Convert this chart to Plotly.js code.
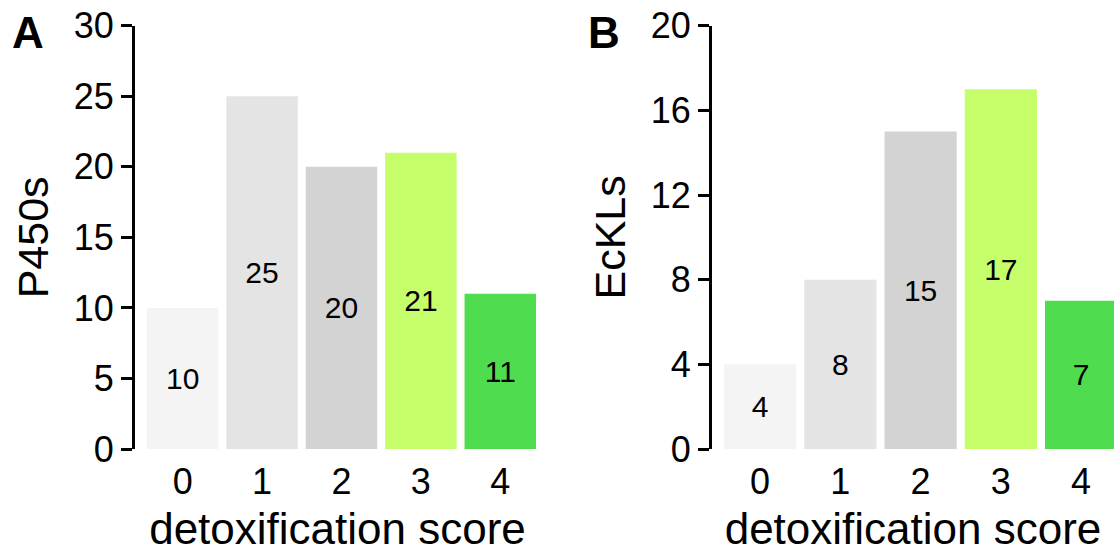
<!DOCTYPE html>
<html>
<head>
<meta charset="utf-8">
<script src="https://cdn.plot.ly/plotly-3.0.1.min.js"></script>
<style>
  html, body { margin: 0; padding: 0; background: #ffffff; }
  #chart { width: 1114px; height: 557px; }
</style>
</head>
<body>
<div id="chart"></div>
<script>
// Data
const scores = [0, 1, 2, 3, 4];
const scoreLabels = ['0', '1', '2', '3', '4'];
const p450Counts = [10, 25, 20, 21, 11];
const ecklCounts = [4, 8, 15, 17, 7];
const barColors = ['#f4f4f4', '#e4e4e4', '#d3d3d3', '#c6fd6a', '#4fdd4f'];
const panelLetters = ['A', 'B'];
const yTitles = ['P450s', 'EcKLs'];
const xTitle = 'detoxification score';

const FONT = 'Liberation Sans, Arial, Helvetica, sans-serif';

function barTrace(vals, xa, ya) {
  return {
    type: 'bar',
    x: scores,
    y: vals,
    xaxis: xa,
    yaxis: ya,
    marker: { color: barColors, line: { width: 0 } },
    text: vals.map(String),
    textposition: 'inside',
    insidetextanchor: 'middle',
    textangle: 0,
    constraintext: 'none',
    textfont: { family: FONT, size: 30, color: '#000000' },
    hoverinfo: 'skip',
    showlegend: false
  };
}

const data = [
  barTrace(p450Counts, 'x', 'y'),
  barTrace(ecklCounts, 'x2', 'y2')
];

const yDom = [1 - 449 / 557, 1 - 25.7 / 557];

function xAxis(domain, range, anchor) {
  return {
    domain: domain,
    range: range,
    anchor: anchor,
    tickmode: 'array',
    tickvals: scores,
    ticktext: scoreLabels,
    showline: false,
    showgrid: false,
    zeroline: false,
    ticks: '',
    ticklabelstandoff: 8,
    tickfont: { family: FONT, size: 36, color: '#000000' },
    title: { text: xTitle, font: { family: FONT, size: 44, color: '#000000' }, standoff: 12 },
    automargin: false,
    fixedrange: true
  };
}

function yAxis(range, dtick, anchor, titleText) {
  return {
    domain: yDom,
    range: range,
    anchor: anchor,
    tickmode: 'linear',
    tick0: 0,
    dtick: dtick,
    showline: true,
    linecolor: '#000000',
    linewidth: 3,
    ticks: 'outside',
    ticklen: 11,
    tickwidth: 3,
    tickcolor: '#000000',
    showgrid: false,
    zeroline: false,
    tickfont: { family: FONT, size: 36, color: '#000000' },
    title: { text: titleText, font: { family: FONT, size: 43, color: '#000000' }, standoff: 12 },
    automargin: false,
    fixedrange: true
  };
}

const layout = {
  width: 1114,
  height: 557,
  margin: { l: 0, r: 0, t: 0, b: 0 },
  paper_bgcolor: '#ffffff',
  plot_bgcolor: '#ffffff',
  bargap: 0.1,
  xaxis: xAxis([135 / 1114, 540 / 1114], [-0.6, 4.5], 'y'),
  yaxis: yAxis([0, 30], 5, 'x', yTitles[0]),
  xaxis2: xAxis([712 / 1114, 1], [-0.6, 4.41], 'y2'),
  yaxis2: yAxis([0, 20], 4, 'x2', yTitles[1]),
  annotations: [
    { text: '<b>' + panelLetters[0] + '</b>', xref: 'paper', yref: 'paper', x: 10 / 1114, y: 1 - 6 / 557, xanchor: 'left', yanchor: 'top', showarrow: false, font: { family: FONT, size: 44, color: '#000000' } },
    { text: '<b>' + panelLetters[1] + '</b>', xref: 'paper', yref: 'paper', x: 586 / 1114, y: 1 - 6 / 557, xanchor: 'left', yanchor: 'top', showarrow: false, font: { family: FONT, size: 44, color: '#000000' } }
  ]
};

Plotly.newPlot('chart', data, layout, { staticPlot: true, displayModeBar: false });
</script>
</body>
</html>
